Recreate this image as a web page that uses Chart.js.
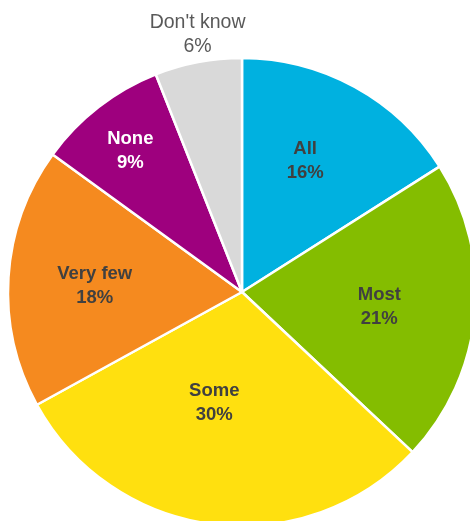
<!DOCTYPE html>
<html>
<head>
<meta charset="utf-8">
<title>Pie</title>
<script src="https://cdn.jsdelivr.net/npm/chart.js@4.4.1/dist/chart.umd.min.js"></script>
<style>
  html, body { margin: 0; padding: 0; background: #fff; overflow: hidden; }
  #wrap { width: 470px; height: 521px; position: relative; }
</style>
</head>
<body>
<div id="wrap"><canvas id="pie"></canvas></div>
<script>
  'use strict';

  const categories = ['All', 'Most', 'Some', 'Very few', 'None', "Don't know"];
  const shares = [16, 21, 30, 18, 9, 6];
  const sliceColors = ['#00B1E0', '#84BD00', '#FFE00F', '#F58A1F', '#9E007E', '#D9D9D9'];

  // where each label sits: fraction of the radius, and a small angular nudge (deg)
  const labelPlace = [
    { r: 0.62, shift: -3 },
    { r: 0.59, shift: 0.6 },
    { r: 0.49, shift: 6.8 },
    { r: 0.63, shift: -1.3 },
    { r: 0.77, shift: -0.5 },
    { r: 1.115, shift: 1 }
  ];
  const labelColors = ['#404040', '#404040', '#404040', '#404040', '#ffffff', '#595959'];
  const labelFonts = [
    'bold 18.5px', 'bold 18.5px', 'bold 18.5px', 'bold 18.5px', 'bold 18.5px', 'normal 19.5px'
  ];

  const sliceLabels = {
    id: 'sliceLabels',
    afterDatasetsDraw(chart) {
      const { ctx } = chart;
      const arcs = chart.getDatasetMeta(0).data;
      ctx.save();
      ctx.textAlign = 'center';
      ctx.textBaseline = 'middle';
      arcs.forEach((arc, i) => {
        const { x, y, startAngle, endAngle, outerRadius } = arc.getProps(
          ['x', 'y', 'startAngle', 'endAngle', 'outerRadius'], true);
        const mid = (startAngle + endAngle) / 2 + labelPlace[i].shift * Math.PI / 180;
        const rad = outerRadius * labelPlace[i].r;
        const lx = x + Math.cos(mid) * rad;
        const ly = y + Math.sin(mid) * rad;
        ctx.fillStyle = labelColors[i];
        ctx.font = labelFonts[i] + ' "Liberation Sans", Arial, sans-serif';
        ctx.fillText(categories[i], lx, ly - 12);
        ctx.fillText(shares[i] + '%', lx, ly + 12);
      });
      ctx.restore();
    }
  };

  new Chart(document.getElementById('pie'), {
    type: 'pie',
    data: {
      labels: categories,
      datasets: [{
        data: shares,
        backgroundColor: sliceColors,
        borderColor: '#ffffff',
        borderWidth: 2.5
      }]
    },
    options: {
      responsive: true,
      maintainAspectRatio: false,
      animation: false,
      radius: 234,
      layout: { padding: { left: 14, top: 63 } },
      plugins: {
        legend: { display: false },
        tooltip: { enabled: false }
      }
    },
    plugins: [sliceLabels]
  });
</script>
</body>
</html>
